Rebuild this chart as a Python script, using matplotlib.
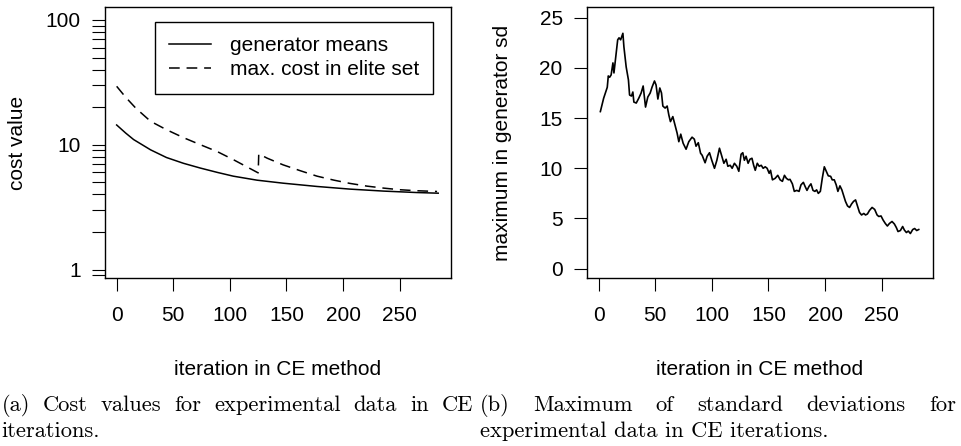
import matplotlib
matplotlib.use("Agg")
import matplotlib.pyplot as plt
from matplotlib.ticker import LogLocator, NullFormatter, FixedLocator, FixedFormatter

# ---- data ----
# left panel: cost values (log scale)
mean_iter = [0, 8, 15, 30, 44, 59, 74, 89, 103, 124, 147, 177, 206, 236, 265, 284]
mean_cost = [14.4, 12.4, 11.0, 9.1, 7.9, 7.1, 6.5, 6.0, 5.6, 5.2, 4.92, 4.63, 4.41, 4.25, 4.14, 4.09]

elite_iter = [0, 8, 17, 30, 44, 59, 74, 89, 103, 125, 125.5, 133, 147, 162, 177, 192, 206, 221, 236, 250, 265, 283]
elite_cost = [29.4, 24.0, 19.6, 15.4, 13.2, 11.4, 10.0, 8.8, 7.6, 5.95, 8.45, 7.8, 6.9, 6.2, 5.6, 5.2, 4.9, 4.66, 4.49, 4.36, 4.28, 4.22]

# right panel: maximum of generator sd
sd_iter = [1.5, 4.4, 7.6, 8.5, 9.7, 11, 12.6, 13.5, 15.6, 16.8, 18, 19.4, 21.4, 22.3, 24.3, 26.3,
           27.3, 29, 30.2, 31.1, 33.2, 35.5, 37.5, 39.3, 41.4, 43.4, 45.5, 47.2, 49.3, 50.7,
           52.3, 54, 55.5, 56.7, 58.7, 60.5, 62, 63.4, 65.5, 67, 69.3, 70.8, 72.5, 74.6, 77.2,
           79.6, 82.5, 84.5, 86, 88, 90, 91.4, 94, 95.8, 97.9, 99.9, 102.3, 104.4, 106.7, 108.8,
           110.6, 112.6, 114.1, 116.2, 117.9, 119.9, 122, 123.8, 125.8, 127.3, 128.7, 130.2, 132,
           133.6, 135.4, 136.9, 138.3, 140.1, 141.8, 143.6, 145.3, 147.1, 148.8, 150.6, 151.8,
           153.5, 155.9, 158.2, 160.3, 162.3, 164.1, 165.8, 167.6, 169, 171.1, 172.8, 174.9, 177,
           178.7, 180.8, 182.3, 184, 185.8, 187.5, 189.3, 191, 192.5, 194, 195.8, 197.5, 199.3,
           201.1, 202.8, 204.9, 206.3, 208.1, 209.8, 211.3, 213.1, 214.8, 216.6, 218, 219.8,
           221.6, 223.4, 225.1, 226.9, 228.7, 230.4, 232.2, 234.2, 235.7, 237.4, 239.2, 241.5,
           243.8, 245.9, 247.4, 249.4, 251.2, 253.2, 255, 256.8, 259.1, 261.2, 262.9, 264.4,
           266.5, 268.5, 270, 271.8, 273.5, 275.3, 277.4, 279.1, 280.9, 282.7]
sd_max = [15.65, 16.98, 18.07, 19.2, 19.07, 19.3, 20.5, 19.5, 21.6, 22.8, 23.0, 22.8, 23.45, 22.1, 20.1, 18.8,
          17.3, 17.2, 17.6, 16.6, 16.5, 17.0, 17.5, 18.2, 16.1, 17.1, 17.5, 18.1, 18.7, 18.3,
          16.9, 18.0, 17.5, 16.2, 16.0, 16.2, 15.3, 14.65, 15.15, 14.5, 13.5, 12.65, 13.4, 12.5, 11.9,
          12.65, 13.1, 12.9, 12.2, 12.55, 11.5, 11.3, 10.55, 11.2, 11.55, 10.8, 10.0, 10.8, 12.0, 11.2,
          10.5, 10.9, 10.2, 10.3, 10.0, 10.5, 10.2, 9.7, 11.4, 11.55, 10.8, 11.2, 10.5,
          10.9, 11.0, 10.3, 9.8, 10.5, 10.2, 10.3, 10.0, 10.15, 10.0, 9.5, 9.8,
          8.85, 9.0, 9.3, 8.85, 8.7, 9.3, 9.0, 8.85, 8.9, 8.45, 7.7, 7.8, 7.7,
          8.35, 8.6, 8.2, 7.8, 8.2, 8.45, 7.8, 7.7, 7.85, 7.5, 7.7, 9.0, 10.15,
          9.7, 9.25, 9.2, 8.85, 8.85, 8.35, 7.7, 8.25, 7.85, 7.2, 6.7, 6.25,
          6.1, 6.45, 6.7, 6.85, 6.2, 5.6, 5.35, 5.5, 5.35, 5.45, 5.8, 6.1,
          5.9, 5.35, 5.2, 5.25, 4.85, 4.5, 4.25, 4.5, 4.7, 4.45, 4.1, 3.7,
          3.8, 4.2, 3.85, 3.6, 3.75, 3.5, 3.9, 4.0, 3.8, 3.9]

x_ticks = [0, 50, 100, 150, 200, 250]
sd_ticks = [0, 5, 10, 15, 20, 25]
cost_ticks = [1, 10, 100]

cap_a = ["(a) Cost values for experimental data in CE", "iterations."]
cap_b = ["(b) Maximum of standard deviations for", "experimental data in CE iterations."]

W, H = 961, 446
sans = "Liberation Sans"
fs = 15

plt.rcParams['font.family'] = [sans, 'DejaVu Sans']

fig = plt.figure(figsize=(W / 100, H / 100), dpi=100, facecolor='white')
ax1 = fig.add_axes([105 / W, 1 - 278 / H, 346 / W, 271 / H])
ax2 = fig.add_axes([587 / W, 1 - 278 / H, 346 / W, 271 / H])


def r_style(ax):
    for s in ax.spines.values():
        s.set_linewidth(1.0)
        s.set_color('black')
    ax.tick_params(axis='both', which='both', direction='out', length=9.5,
                   width=0.8, labelsize=fs, color='black')
    ax.tick_params(axis='x', pad=11)
    ax.tick_params(axis='y', pad=8)
    ax.set_xticks(x_ticks)
    ax.set_xlim(-10.3, 295.3)


# left panel
ax1.plot(mean_iter, mean_cost, color='black', lw=1.1, label='generator means')
ax1.plot(elite_iter, elite_cost, color='black', lw=1.1, ls=(0, (7, 4.5)),
         label='max. cost in elite set')
ax1.set_yscale('log')
ax1.set_ylim(10 ** -0.068, 10 ** 2.104)
ax1.yaxis.set_major_locator(FixedLocator(cost_ticks))
ax1.yaxis.set_major_formatter(FixedFormatter([str(v) for v in cost_ticks]))
ax1.yaxis.set_minor_locator(LogLocator(base=10, subs=range(2, 10)))
ax1.yaxis.set_minor_formatter(NullFormatter())
r_style(ax1)
ax1.set_ylabel('cost value', fontsize=fs)
ax1.yaxis.set_label_coords(-0.225, 0.5)
ax1.set_xlabel('iteration in CE method', fontsize=fs)
ax1.xaxis.set_label_coords(0.5, -0.303)
leg = ax1.legend(loc='upper right', bbox_to_anchor=(0.949, 0.946), fontsize=fs,
                 frameon=True, fancybox=False, framealpha=1, edgecolor='black',
                 borderpad=0.7, labelspacing=0.25, handlelength=2.0,
                 handletextpad=0.9, borderaxespad=0)
leg.get_frame().set_linewidth(1.0)

# right panel
ax2.plot(sd_iter, sd_max, color='black', lw=1.2)
ax2.set_ylim(-0.93, 26.07)
ax2.set_yticks(sd_ticks)
r_style(ax2)
ax2.set_ylabel('maximum in generator sd', fontsize=fs)
ax2.yaxis.set_label_coords(-0.217, 0.5)
ax2.set_xlabel('iteration in CE method', fontsize=fs)
ax2.xaxis.set_label_coords(0.5, -0.303)

# captions (justified first lines)
renderer = fig.canvas.get_renderer()
cap_kw = dict(fontfamily='cmr10', fontsize=16.2, va='baseline', ha='left')


def justify(words, x0, x1, ybase):
    texts = [fig.text(0, ybase / H, w, **cap_kw) for w in words]
    widths = [t.get_window_extent(renderer).width for t in texts]
    gap = (x1 - x0 - sum(widths)) / (len(words) - 1)
    x = x0
    for t, w in zip(texts, widths):
        t.set_x(x / W)
        x += w + gap


justify(cap_a[0].split(), 1.5, 473, H - 410.7)
fig.text(1.5 / W, (H - 436.7) / H, cap_a[1], **cap_kw)
justify(cap_b[0].split(), 480, 956, H - 410.7)
fig.text(480 / W, (H - 436.7) / H, cap_b[1], **cap_kw)

fig.savefig('out.png', dpi=100)
